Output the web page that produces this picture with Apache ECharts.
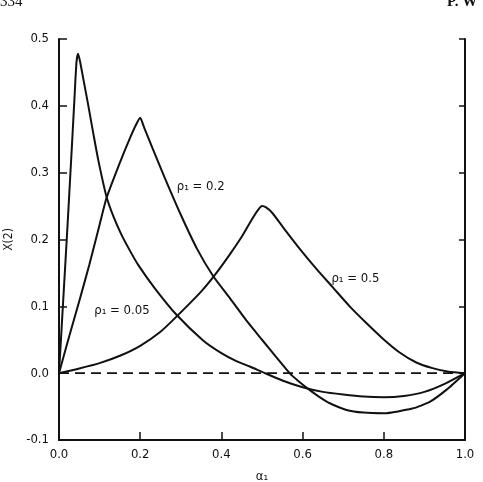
<!DOCTYPE html>
<html>
<head>
<meta charset="utf-8">
<script src="https://cdn.jsdelivr.net/npm/echarts@6/dist/echarts.min.js"></script>
<style>
html,body{margin:0;padding:0;background:#fff;}
#c{width:483px;height:482px;}
</style>
</head>
<body>
<div id="c"></div>
<script>
// ---- data ----
var xTicks = [0.0, 0.2, 0.4, 0.6, 0.8, 1.0];
var yTicks = [-0.1, 0.0, 0.1, 0.2, 0.3, 0.4, 0.5];

var p005_x = [0, 0.01, 0.02, 0.03, 0.038, 0.043, 0.047, 0.052, 0.06, 0.072, 0.085, 0.097, 0.117, 0.135, 0.154, 0.175, 0.195, 0.236, 0.29, 0.355, 0.4, 0.437, 0.47, 0.5, 0.55, 0.6, 0.65, 0.7, 0.75, 0.8, 0.85, 0.9, 0.95, 1.0];
var p005_y = [0, 0.105, 0.21, 0.32, 0.41, 0.465, 0.478, 0.466, 0.44, 0.401, 0.357, 0.318, 0.264, 0.233, 0.207, 0.183, 0.162, 0.127, 0.087, 0.049, 0.03, 0.018, 0.01, 0.002, -0.011, -0.021, -0.028, -0.032, -0.035, -0.036, -0.034, -0.028, -0.016, 0];

var p02_x = [0, 0.025, 0.05, 0.075, 0.1, 0.117, 0.15, 0.175, 0.19, 0.2, 0.21, 0.23, 0.26, 0.3, 0.34, 0.38, 0.42, 0.46, 0.5, 0.535, 0.568, 0.59, 0.617, 0.64, 0.667, 0.708, 0.75, 0.8, 0.87, 0.913, 0.954, 1.0];
var p02_y = [0, 0.055, 0.108, 0.163, 0.222, 0.262, 0.315, 0.352, 0.372, 0.382, 0.367, 0.337, 0.293, 0.237, 0.186, 0.145, 0.113, 0.08, 0.05, 0.024, 0, -0.012, -0.025, -0.035, -0.045, -0.055, -0.059, -0.06, -0.053, -0.043, -0.025, 0];

var p05_x = [0, 0.05, 0.1, 0.15, 0.2, 0.25, 0.29, 0.35, 0.384, 0.42, 0.45, 0.475, 0.49, 0.5, 0.51, 0.525, 0.551, 0.593, 0.634, 0.675, 0.716, 0.757, 0.797, 0.839, 0.88, 0.92, 0.96, 1.0];
var p05_y = [0, 0.007, 0.015, 0.026, 0.041, 0.062, 0.085, 0.122, 0.147, 0.177, 0.204, 0.23, 0.244, 0.25, 0.248, 0.24, 0.219, 0.186, 0.156, 0.128, 0.1, 0.075, 0.052, 0.031, 0.016, 0.0075, 0.002, 0];

var zero_x = [0, 1.0];
var zero_y = [0, 0];

var curveLabels = ['ρ₁ = 0.05', 'ρ₁ = 0.2', 'ρ₁ = 0.5'];
var labelAt = [[0.155, 0.094], [0.349, 0.279], [0.73, 0.142]];

var xName = 'α₁';
var yName = 'X(2)';
var headerLeft = '334';
var headerRight = 'P. W';

function zip(a, b) { return a.map(function (v, i) { return [v, b[i]]; }); }

var FONT = '"DejaVu Sans Condensed", "DejaVu Sans", sans-serif';
var chart = echarts.init(document.getElementById('c'), null, {renderer: 'canvas'});

var lineStyle = {color: '#111', width: 2};
function curve(name, xs, ys) {
  return {
    name: name, type: 'line', data: zip(xs, ys), showSymbol: false, symbol: 'none',
    smooth: 0.2, lineStyle: lineStyle, animation: false, z: 3
  };
}

var yAxisBase = {
  type: 'value', min: -0.1, max: 0.5, interval: 0.1,
  splitLine: {show: false},
  axisLine: {show: true, onZero: false, lineStyle: {color: '#111', width: 2}},
  axisTick: {show: true, inside: true, length: 8, lineStyle: {color: '#111', width: 1.5}}
};

chart.setOption({
  animation: false,
  backgroundColor: '#fff',
  grid: {left: 59, right: 18, top: 39, bottom: 42, containLabel: false, outerBoundsMode: 'none'},
  xAxis: {
    type: 'value', min: 0, max: 1, interval: 0.2,
    name: xName, nameLocation: 'middle', nameGap: 30,
    nameTextStyle: {fontFamily: FONT, fontSize: 13, color: '#111'},
    splitLine: {show: false},
    axisLine: {show: true, onZero: false, lineStyle: {color: '#111', width: 2}},
    axisTick: {show: true, inside: true, length: 8, lineStyle: {color: '#111', width: 1.5}},
    axisLabel: {margin: 8, fontFamily: FONT, fontSize: 13, color: '#111',
      formatter: function (v) { return v.toFixed(1); }}
  },
  yAxis: [
    Object.assign({}, yAxisBase, {
      position: 'left',
      name: yName, nameLocation: 'middle', nameGap: 44, nameRotate: 90,
      nameTextStyle: {fontFamily: FONT, fontSize: 12, color: '#111'},
      axisLabel: {margin: 10, fontFamily: FONT, fontSize: 13, color: '#111',
        formatter: function (v) { return v.toFixed(1); }}
    }),
    Object.assign({}, yAxisBase, {
      position: 'right',
      axisTick: {show: true, inside: true, length: 6, lineStyle: {color: '#111', width: 1.5}},
      axisLabel: {show: false}
    })
  ],
  series: [
    curve('p005', p005_x, p005_y),
    curve('p02', p02_x, p02_y),
    curve('p05', p05_x, p05_y),
    {
      name: 'zero', type: 'line', data: zip(zero_x, zero_y), showSymbol: false, symbol: 'none',
      lineStyle: {color: '#111', width: 1.6, type: [10, 6]}, z: 2
    }
  ]
});

var g = [];
labelAt.forEach(function (p, i) {
  var px = chart.convertToPixel({gridIndex: 0}, p);
  g.push({
    type: 'text', x: px[0], y: px[1],
    style: {text: curveLabels[i], fontFamily: FONT, fontSize: 13, fill: '#111',
      align: 'center', verticalAlign: 'middle'}
  });
});
g.push({type: 'text', x: 0, y: -5, style: {text: headerLeft, fontFamily: '"Liberation Serif", serif', fontSize: 15, fill: '#111', align: 'left', verticalAlign: 'top'}});
g.push({type: 'text', x: 447, y: -5, style: {text: headerRight, fontFamily: '"Liberation Serif", serif', fontSize: 15, fontWeight: 'bold', fill: '#111', align: 'left', verticalAlign: 'top'}});
chart.setOption({graphic: g});
</script>
</body>
</html>
